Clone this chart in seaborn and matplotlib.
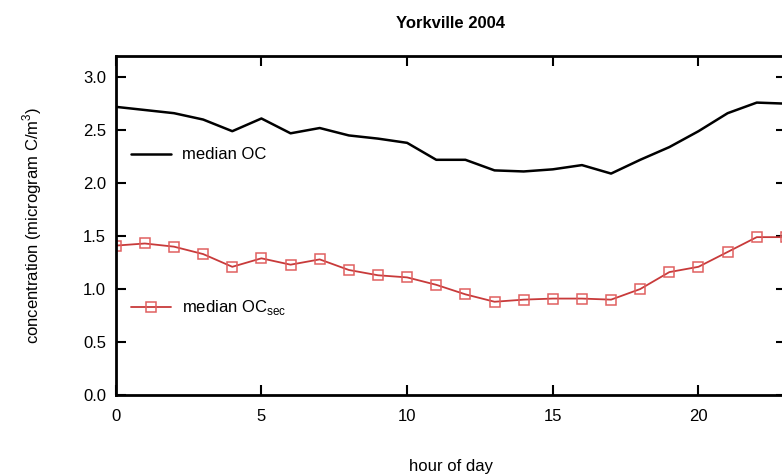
import matplotlib
matplotlib.use('Agg')
import matplotlib.pyplot as plt
import seaborn as sns
import pandas as pd

# Horas del día y medianas
horas = list(range(24))
oc_mediana = [2.72, 2.69, 2.66, 2.60, 2.49, 2.61, 2.47, 2.52, 2.45, 2.42, 2.38, 2.22,
              2.22, 2.12, 2.11, 2.13, 2.17, 2.09, 2.22, 2.34, 2.49, 2.66, 2.76, 2.75]
oc_sec_mediana = [1.41, 1.43, 1.40, 1.33, 1.21, 1.29, 1.23, 1.28, 1.18, 1.13, 1.11, 1.04,
                  0.95, 0.88, 0.90, 0.91, 0.91, 0.90, 1.00, 1.16, 1.21, 1.35, 1.49, 1.49]
ticks_x = [0, 5, 10, 15, 20]
ticks_y = [0.0, 0.5, 1.0, 1.5, 2.0, 2.5, 3.0]

sns.set_style('ticks')
plt.rcParams['font.family'] = ['Liberation Sans', 'DejaVu Sans']
plt.rcParams['mathtext.fontset'] = 'custom'
plt.rcParams['mathtext.rm'] = 'Liberation Sans'
plt.rcParams['text.color'] = 'black'
plt.rcParams['axes.labelcolor'] = 'black'
plt.rcParams['xtick.color'] = 'black'
plt.rcParams['ytick.color'] = 'black'
plt.rcParams['axes.edgecolor'] = 'black'

df = pd.DataFrame({'hora': horas, 'oc': oc_mediana, 'oc_sec': oc_sec_mediana})

fig = plt.figure(figsize=(7.82, 4.74), dpi=100)
ax = fig.add_axes([0.148, 0.1667, 0.857, 0.7152])

sns.lineplot(data=df, x='hora', y='oc', color='black', linewidth=1.8, ax=ax, legend=False)
sns.lineplot(data=df, x='hora', y='oc_sec', color='#c83a3a', linewidth=1.3, marker='s',
             markersize=7, markerfacecolor='none', markeredgecolor='#e06060',
             markeredgewidth=1.1, ax=ax, legend=False)

ax.set_xlim(0, 23)
ax.set_ylim(0, 3.2)
ax.set_xticks(ticks_x)
ax.set_yticks(ticks_y)
ax.set_yticklabels([f'{v:.1f}' for v in ticks_y])
ax.tick_params(direction='in', length=7, width=1.5, top=True, right=True, labelsize=12)
ax.tick_params(axis='x', pad=10)
ax.tick_params(axis='y', pad=7)
for s in ax.spines.values():
    s.set_linewidth(2)

ax.set_title('Yorkville 2004', fontsize=12, fontweight='bold', pad=20)
ax.set_xlabel('hour of day', fontsize=12, labelpad=25)
ax.set_ylabel('concentration (microgram C/m$^3$)', fontsize=12, labelpad=28)

lineas = ax.get_lines()
leg1 = ax.legend(handles=[lineas[0]], labels=['median OC'], loc='center left',
                 bbox_to_anchor=(0.0, 0.708), frameon=False, fontsize=12,
                 handlelength=2.4, handletextpad=0.7)
ax.add_artist(leg1)
ax.legend(handles=[lineas[1]], labels=[r'median OC$_{\mathrm{sec}}$'], loc='center left',
          bbox_to_anchor=(0.0, 0.257), frameon=False, fontsize=12,
          handlelength=2.4, handletextpad=0.7)

fig.savefig('out.png', dpi=100)
